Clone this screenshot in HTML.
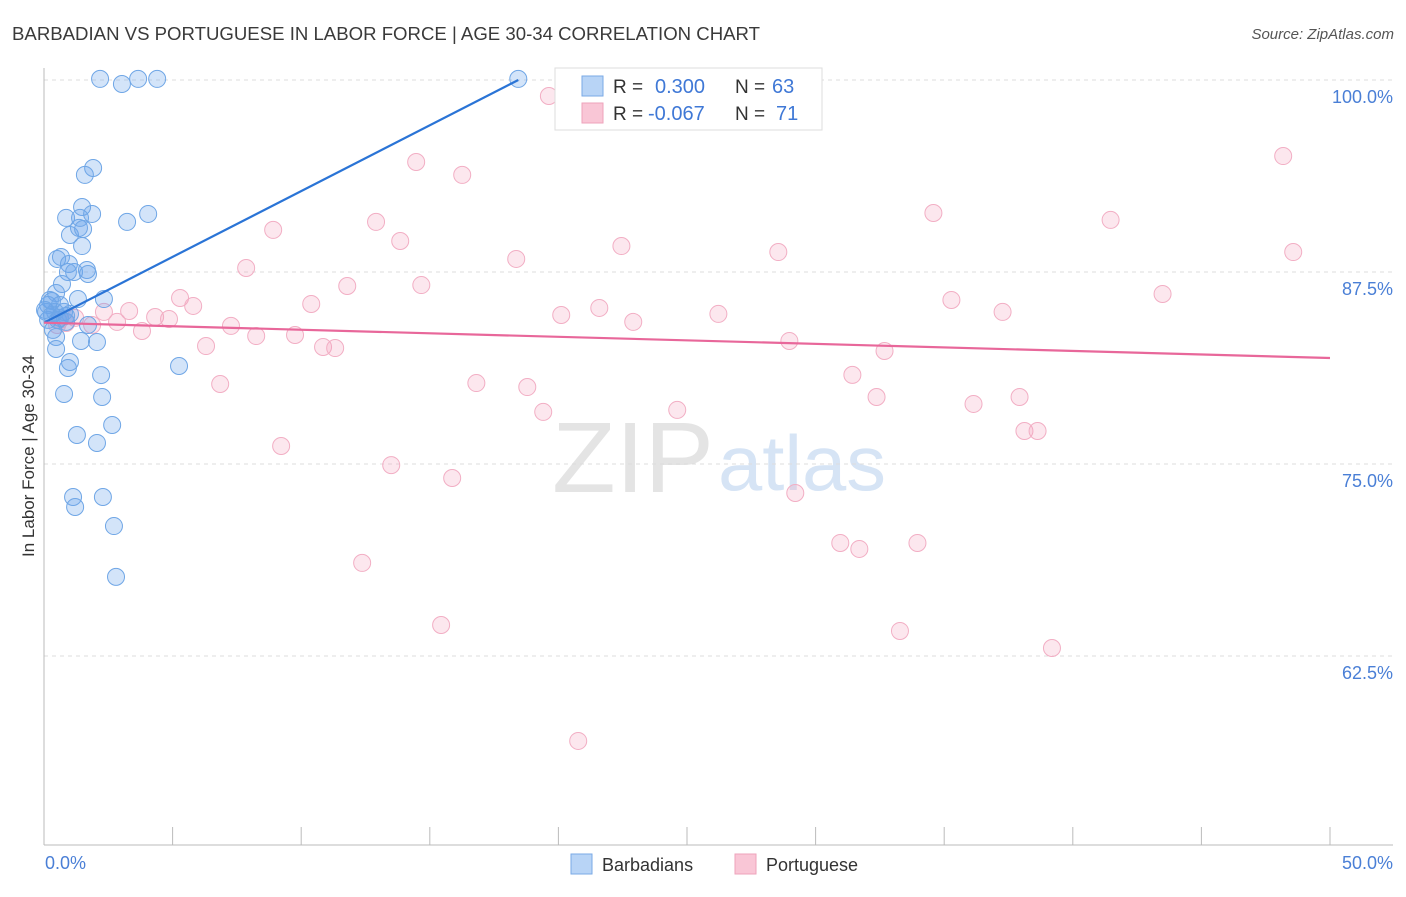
<!DOCTYPE html>
<html><head><meta charset="utf-8">
<style>
body{margin:0;background:#fff;font-family:"Liberation Sans",sans-serif;}
svg text{font-family:"Liberation Sans",sans-serif;}
</style></head>
<body>
<svg id="chart" width="1406" height="892" viewBox="0 0 1406 892" xmlns="http://www.w3.org/2000/svg">
<text x="12" y="40" font-size="18" fill="#3a3a3a" textLength="748" lengthAdjust="spacingAndGlyphs">BARBADIAN VS PORTUGUESE IN LABOR FORCE | AGE 30-34 CORRELATION CHART</text>
<text x="1394" y="39" font-size="15" fill="#555" font-style="italic" text-anchor="end">Source: ZipAtlas.com</text>
<g>
<text x="552" y="492" font-size="100" fill="#e4e4e4" font-family="Liberation Serif, serif" textLength="162" lengthAdjust="spacingAndGlyphs">ZIP</text>
<text x="718" y="490" font-size="78" fill="#d6e4f5" textLength="168" lengthAdjust="spacingAndGlyphs">atlas</text>
</g>
<g id="grid"></g>
<g id="axes"></g>
<g id="pts"></g>
<g id="trends"></g>
<text transform="translate(34,456) rotate(-90)" font-size="17" fill="#333" text-anchor="middle">In Labor Force | Age 30-34</text>
<g>
<rect x="555" y="68" width="267" height="62" fill="#fff" stroke="#ddd"/>
<rect x="582" y="76" width="21" height="20" fill="#b8d4f6" stroke="#7aaae6"/>
<rect x="582" y="103" width="21" height="20" fill="#f9c6d6" stroke="#eea3bb"/>
<text x="613" y="93" font-size="19" fill="#333">R = </text><text x="655" y="93" font-size="20" fill="#3f78d6">0.300</text>
<text x="735" y="93" font-size="19" fill="#333">N = </text><text x="772" y="93" font-size="20" fill="#3f78d6">63</text>
<text x="613" y="120" font-size="19" fill="#333">R = </text><text x="648" y="120" font-size="20" fill="#3f78d6">-0.067</text>
<text x="735" y="120" font-size="19" fill="#333">N = </text><text x="776" y="120" font-size="20" fill="#3f78d6">71</text>
</g>
<g>
<rect x="571" y="854" width="21" height="20" fill="#b8d4f6" stroke="#7aaae6"/>
<text x="602" y="871" font-size="18" fill="#333">Barbadians</text>
<rect x="735" y="854" width="21" height="20" fill="#f9c6d6" stroke="#eea3bb"/>
<text x="766" y="871" font-size="18" fill="#333">Portuguese</text>
</g>
</svg>
<script>
const blueX=[2.18,3.03,3.66,4.4,18.44,1.91,1.59,1.48,0.86,1.40,1.87,4.05,3.23,1.01,1.36,1.52,1.48,0.51,0.66,0.97,0.93,1.17,1.67,1.71,0.70,0.47,2.33,1.32,0.31,0.16,0.62,0.08,0.43,0.78,1.01,0.16,0.54,0.86,1.71,0.35,0.47,1.44,2.06,0.47,1.01,0.93,5.25,0.78,2.22,2.26,2.65,1.28,2.06,1.13,2.29,1.21,2.72,2.80,0.23,0.04,0.31,0.62,0.86];
const blueY=[100.07,99.74,100.07,100.07,100.07,94.27,93.82,91.73,91.02,91.02,91.28,91.28,90.76,89.91,90.37,90.30,89.19,88.35,88.48,88.02,87.50,87.50,87.63,87.37,86.72,86.13,85.74,85.74,85.61,85.35,85.35,84.90,84.90,84.90,84.77,84.38,84.38,84.25,84.05,83.73,83.27,83.01,82.94,82.49,81.64,81.25,81.38,79.56,80.79,79.36,77.54,76.89,76.37,72.85,72.85,72.20,70.96,67.65,85.68,85.03,84.70,84.51,84.64];
const pinkX=[19.63,25.51,25.70,29.70,14.47,16.26,48.18,12.91,34.58,41.47,8.91,13.85,22.45,18.36,28.55,48.57,7.86,11.79,14.67,5.29,5.80,10.39,35.28,43.49,3.31,4.32,4.86,2.33,2.84,1.87,20.11,21.59,22.91,26.22,37.27,7.27,3.81,8.25,9.76,6.30,10.85,11.32,28.98,32.68,0.86,0.62,31.43,6.85,16.81,18.79,32.37,19.41,24.62,36.14,37.93,38.12,38.63,9.22,13.50,15.87,29.21,30.96,31.70,33.96,12.37,15.44,33.28,39.19,20.77,0.51,1.21];
const pinkY=[98.96,100,99.74,100,94.66,93.82,95.05,90.76,91.34,90.89,90.24,89.52,89.19,88.35,88.80,88.80,87.76,86.59,86.65,85.81,85.29,85.42,85.68,86.07,84.96,84.57,84.44,84.90,84.25,84.05,84.70,85.16,84.25,84.77,84.90,83.99,83.66,83.33,83.40,82.68,82.62,82.55,83.01,82.36,84.18,84.38,80.80,80.21,80.27,80.01,79.36,78.39,78.52,78.91,79.36,77.15,77.15,76.17,74.93,74.09,73.11,69.86,69.47,69.86,68.56,64.52,64.13,63.02,56.97,84.05,84.51];
const blueTrend=[[0,84.2],[18.44,100]];
const pinkTrend=[[0,84.2],[50,81.9]];
const yTicks=[100,87.5,75,62.5];
const yTickLabels=["100.0%","87.5%","75.0%","62.5%"];
const xTicks=[0,5,10,15,20,25,30,35,40,45,50];

const NS="http://www.w3.org/2000/svg";
const sx=v=>44+v/50*1286;
const sy=v=>80+(100-v)/12.5*192;
function mk(tag,attrs,parent){const e=document.createElementNS(NS,tag);for(const k in attrs)e.setAttribute(k,attrs[k]);parent.appendChild(e);return e;}
const grid=document.getElementById('grid'),axes=document.getElementById('axes'),pts=document.getElementById('pts'),tr=document.getElementById('trends');
yTicks.forEach((t,i)=>{
 const l=mk('line',{x1:44,x2:1393,y1:sy(t),y2:sy(t),stroke:'#ddd','stroke-dasharray':'4,4'},grid);
 
 
 const tx=mk('text',{x:1393,y:sy(t)+23,'font-size':18,fill:'#4a7fd6','text-anchor':'end'},axes);
 tx.textContent=yTickLabels[i];
 
 
});
mk('line',{x1:44,x2:44,y1:68,y2:845,stroke:'#bbb'},axes);
mk('line',{x1:44,x2:1393,y1:845,y2:845,stroke:'#bbb'},axes);
xTicks.forEach(t=>{const l=mk('line',{x1:sx(t),x2:sx(t),y1:827,y2:845,stroke:'#bbb'},axes);
 
 });
const x0=mk('text',{x:45,y:869,'font-size':18,fill:'#4a7fd6'},axes);x0.textContent='0.0%';


const x1=mk('text',{x:1393,y:869,'font-size':18,fill:'#4a7fd6','text-anchor':'end'},axes);x1.textContent='50.0%';


pinkX.forEach((x,i)=>{const c=mk('circle',{cx:sx(x),cy:sy(pinkY[i]),r:8.5,fill:'rgba(244,160,188,0.25)',stroke:'#f2aec4','stroke-width':1},pts);
 
 });
blueX.forEach((x,i)=>{const c=mk('circle',{cx:sx(x),cy:sy(blueY[i]),r:8.5,fill:'rgba(110,165,235,0.3)',stroke:'#6fa6e6','stroke-width':1},pts);
 
 });
const bl=mk('line',{x1:sx(blueTrend[0][0]),y1:sy(blueTrend[0][1]),x2:sx(blueTrend[1][0]),y2:sy(blueTrend[1][1]),stroke:'#2a74d6','stroke-width':2.2},tr);


const pl=mk('line',{x1:sx(pinkTrend[0][0]),y1:sy(pinkTrend[0][1]),x2:sx(pinkTrend[1][0]),y2:sy(pinkTrend[1][1]),stroke:'#e8679a','stroke-width':2.2},tr);


</script>
</body></html>
